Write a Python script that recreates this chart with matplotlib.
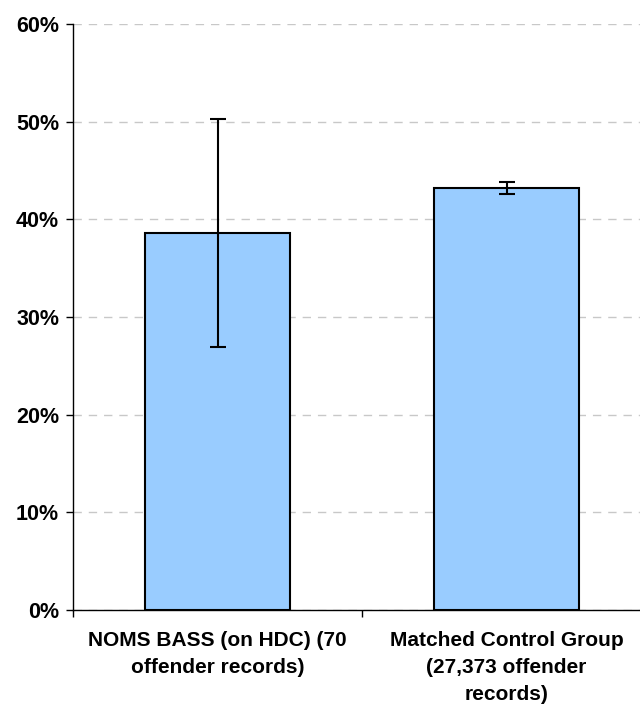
import matplotlib
matplotlib.use("Agg")
import matplotlib.pyplot as plt
from matplotlib.ticker import FuncFormatter, MultipleLocator

categories = ["NOMS BASS (on HDC) (70\noffender records)",
              "Matched Control Group\n(27,373 offender\nrecords)"]
values = [38.6, 43.2]
errors = [11.7, 0.6]
yticks = [0, 10, 20, 30, 40, 50, 60]

plt.rcParams['font.family'] = ['Liberation Sans', 'DejaVu Sans']

W, H = 640, 706
fig = plt.figure(figsize=(W/100, H/100), dpi=100)
left, right = 73, 651
top, bottom = 24, 610
ax = fig.add_axes([left/W, 1 - bottom/H, (right-left)/W, (bottom-top)/H])

x = list(range(len(categories)))
ax.bar(x, values, width=0.505, color="#99CCFF", edgecolor="black", linewidth=1.5, zorder=3)
ax.errorbar(x, values, yerr=errors, fmt="none", ecolor="black", elinewidth=1.5,
            capsize=5.5, capthick=1.5, zorder=4)

ax.set_xlim(-0.5, 1.5)
ax.set_ylim(0, 60)
ax.set_yticks(yticks)
ax.yaxis.set_major_formatter(FuncFormatter(lambda v, p: f"{int(v)}%"))
ax.yaxis.grid(True, linestyle=(0, (6, 5)), color="#c8c8c8", linewidth=1, zorder=0)
ax.set_axisbelow(True)

ax.set_xticks(x)
ax.set_xticklabels(categories, fontsize=15, fontweight="bold", linespacing=1.55)
ax.xaxis.set_minor_locator(MultipleLocator(1, offset=0.5))
ax.tick_params(axis="x", which="major", length=0, pad=15)
ax.tick_params(axis="x", which="minor", length=5, width=1, direction="out", color="black")
ax.tick_params(axis="y", length=5, width=1, direction="out", labelsize=15.5, pad=5)
for lbl in ax.get_yticklabels():
    lbl.set_fontweight("bold")

for s in ["top", "right"]:
    ax.spines[s].set_visible(False)
ax.spines["left"].set_linewidth(1)
ax.spines["bottom"].set_linewidth(1)

fig.savefig("out.png", dpi=100)
